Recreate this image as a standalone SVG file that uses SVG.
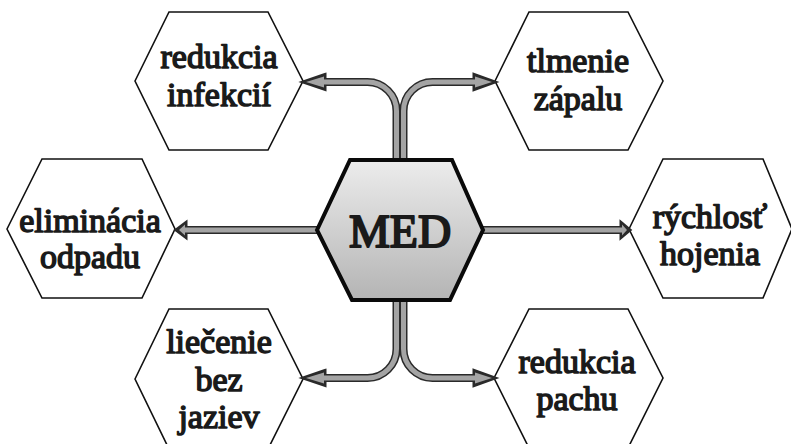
<svg xmlns="http://www.w3.org/2000/svg" width="791" height="444" viewBox="0 0 791 444">
<defs>
<linearGradient id="g" x1="0" y1="0" x2="0" y2="1">
<stop offset="0" stop-color="#ececec"/>
<stop offset="1" stop-color="#b4b4b4"/>
</linearGradient>
</defs>
<style>
.hex{fill:#fff;stroke:#111;stroke-width:1.6}
.t{font-family:'Liberation Serif',serif;font-weight:normal;font-size:34px;fill:#1a1a1a;stroke:#1a1a1a;stroke-width:1.5;stroke-linejoin:round;text-anchor:middle}
.od{fill:none;stroke:#2a2a2a;stroke-width:8}
.og{fill:none;stroke:#a4a4a4;stroke-width:5}
.hd{fill:#2a2a2a;stroke:#2a2a2a;stroke-width:3;stroke-linejoin:miter}
.hg{fill:#a4a4a4}
</style>
<rect width="791" height="444" fill="#fff"/>
<g id="n-redukcia-infekcii"><polygon class="hex" points="135,81 169,12 268,12 303,81 268,150 169,150"/><text class="t" x="219" y="68">redukcia</text><text class="t" x="219" y="106">infekcií</text></g>
<g id="n-tlmenie-zapalu"><polygon class="hex" points="495,81 529,12 628,12 663,81 628,150 529,150"/><text class="t" x="578" y="72">tlmenie</text><text class="t" x="578" y="110">zápalu</text></g>
<g id="n-eliminacia-odpadu"><polygon class="hex" points="7,229 42,159 142,159 175,229 142,298 42,298"/><text class="t" x="90" y="232">eliminácia</text><text class="t" x="90" y="268">odpadu</text></g>
<g id="n-rychlost-hojenia"><polygon class="hex" points="629,229 663,159 763,159 792,229 763,298 663,298"/><text class="t" x="710" y="228">rýchlosť</text><text class="t" x="710" y="265">hojenia</text></g>
<g id="n-liecenie-bez-jaziev"><polygon class="hex" points="135,379 169,309 268,309 303,379 268,449 169,449"/><text class="t" x="219" y="353">liečenie</text><text class="t" x="219" y="391">bez</text><text class="t" x="219" y="428">jaziev</text></g>
<g id="n-redukcia-pachu"><polygon class="hex" points="494,378 529,309 628,309 663,378 628,448 529,448"/><text class="t" x="577" y="373">redukcia</text><text class="t" x="577" y="410">pachu</text></g>
<g id="connectors">
<g>
<path class="od" d="M396.5,165 V111 A29,29 0 0 0 367.5,82 H322"/>
<path class="od" d="M403.5,165 V111 A29,29 0 0 1 432.5,82 H476"/>
<path class="od" d="M396.5,295 V349 A29,29 0 0 1 367.5,378 H322"/>
<path class="od" d="M403.5,295 V349 A29,29 0 0 0 432.5,378 H476"/>
<path class="od" d="M320,230 H184"/>
<path class="od" d="M480,230 H623"/>
<polygon class="hd" points="325,74.5 303,82 325,89.5"/>
<polygon class="hd" points="474,74.5 495,82 474,89.5"/>
<polygon class="hd" points="325,370.5 303,378 325,385.5"/>
<polygon class="hd" points="474,370.5 495,378 474,385.5"/>
<polygon class="hd" points="186,222.5 176,230 186,237.5"/>
<polygon class="hd" points="621,222.5 630,230 621,237.5"/>
</g>
<g>
<path class="og" d="M396.5,165 V111 A29,29 0 0 0 367.5,82 H322"/>
<path class="og" d="M403.5,165 V111 A29,29 0 0 1 432.5,82 H476"/>
<path class="og" d="M396.5,295 V349 A29,29 0 0 1 367.5,378 H322"/>
<path class="og" d="M403.5,295 V349 A29,29 0 0 0 432.5,378 H476"/>
<path class="og" d="M320,230 H184"/>
<path class="og" d="M480,230 H623"/>
<polygon class="hg" points="324,76.5 306,82 324,87.5"/>
<polygon class="hg" points="475,76.5 492,82 475,87.5"/>
<polygon class="hg" points="324,372.5 306,378 324,383.5"/>
<polygon class="hg" points="475,372.5 492,378 475,383.5"/>
<polygon class="hg" points="185,224.5 179,230 185,235.5"/>
<polygon class="hg" points="622,224.5 627,230 622,235.5"/>
</g>
</g>
<g id="n-med"><polygon points="317,230 350,160 452,160 483,230 450,300 352,300" fill="url(#g)" stroke="#0a0a0a" stroke-width="4" stroke-linejoin="miter"/><text class="t" x="400" y="247" style="font-size:46px;stroke-width:2">MED</text></g>
</svg>
